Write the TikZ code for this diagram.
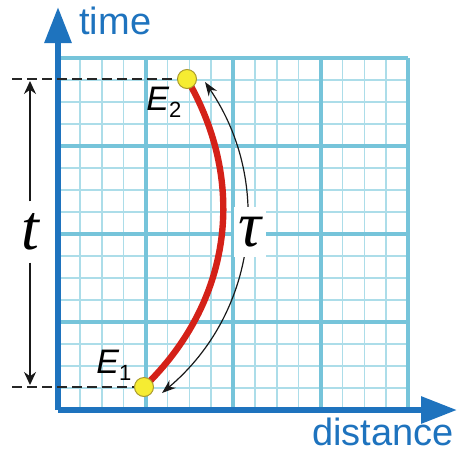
\documentclass[tikz,border=0pt]{standalone}
\usepackage{fontspec}
\setmainfont{Liberation Sans}
\newfontfamily\greekfont{Liberation Serif}
\usetikzlibrary{arrows.meta}

\definecolor{axisblue}{RGB}{30,115,190}
\definecolor{gridmajor}{RGB}{118,196,218}
\definecolor{gridminor}{RGB}{172,221,233}
\definecolor{worldred}{RGB}{212,33,24}
\definecolor{dotyellow}{RGB}{246,236,50}
\definecolor{dotrim}{RGB}{170,155,45}

\begin{document}
\begin{tikzpicture}[x=0.5pt, y=0.5pt, >=Stealth,
  axis/.style={line width=3pt, axisblue, -{Triangle[length=18pt,width=13pt]}},
  axislabel/.style={axisblue, inner sep=0pt, font=\fontsize{19}{19}\selectfont},
  event/.style={circle, draw=dotrim, line width=0.5pt, fill=dotyellow,
                minimum size=9.5pt, inner sep=0pt},
  eventlabel/.style={anchor=base west, inner sep=0pt, font=\fontsize{17}{17}\selectfont\itshape},
  bigsym/.style={font=\greekfont\itshape\fontsize{32}{32}\selectfont},
  dashedguide/.style={black!85, line width=0.75pt, dash pattern=on 5pt off 2.5pt}]
  \useasboundingbox (0,0) rectangle (460,452);

  %% Graph paper — 16 minor cells each way, every fourth line major
  \foreach \i in {0,...,16} {
    \draw[gridminor, line width=0.75pt] ({58+21.875*\i},42) -- ++(0,352);
    \draw[gridminor, line width=0.75pt] (58,{42+22*\i}) -- ++(350,0);
  }
  \foreach \i in {0,...,4} {
    \draw[gridmajor, line width=2pt] ({58+87.5*\i},42) -- ++(0,352);
    \draw[gridmajor, line width=2pt] (58,{42+88*\i}) -- ++(350,0);
  }

  %% Axes
  \coordinate (O) at (58,42);
  \coordinate (timetip) at (58,445);
  \coordinate (disttip) at (457,42);
  \draw[axis] (O) -- (timetip);
  \draw[axis] (O) -- (disttip);
  \node[axislabel, anchor=base west] (timelab) at (79,418) {time};
  \node[axislabel, anchor=base west] (distlab) at (312,7) {distance};

  %% World line between the two events
  \coordinate (E1) at (144,65);
  \coordinate (E2) at (187,373);
  \draw[worldred, line width=3.2pt] (E1) to[bend right=38] (E2);

  %% Proper time along the world line
  \coordinate (taulo) at ([shift={(18,-6)}]E1);
  \coordinate (tauhi) at ([shift={(18,-3)}]E2);
  \draw[black!90, line width=0.6pt, {Stealth[length=7pt,width=5pt]}-{Stealth[length=7pt,width=5pt]}]
    (taulo) to[bend right=42] (tauhi);
  \node[bigsym, fill=white, inner xsep=2.5pt, inner ysep=5pt] (taulab) at (250,220) {τ};

  %% Events
  \node[event] (E1dot) at (E1) {};
  \node[event] (E2dot) at (E2) {};
  \node[eventlabel] (E1lab) at ([shift={(-48,14)}]E1) {E\raisebox{-3.5pt}{\upshape\fontsize{11}{11}\selectfont 1}};
  \node[eventlabel] (E2lab) at ([shift={(-41,-31)}]E2) {E\raisebox{-3.5pt}{\upshape\fontsize{11}{11}\selectfont 2}};

  %% Coordinate time t
  \coordinate (dashtop) at (12,373);
  \coordinate (dashbot) at (12,65);
  \draw[dashedguide] (dashtop) -- (E2dot);
  \draw[dashedguide] (dashbot) -- (E1dot);
  \node[bigsym, inner xsep=0pt, inner ysep=6pt] (tlab) at (30,220) {t};
  \coordinate (ttop) at (30,371);
  \coordinate (tbot) at (30,67);
  \draw[black!90, line width=0.75pt, -{Stealth[length=6.5pt,width=6pt]}] (tlab) -- (ttop);
  \draw[black!90, line width=0.75pt, -{Stealth[length=6.5pt,width=6pt]}] (tlab) -- (tbot);
\end{tikzpicture}
\end{document}
